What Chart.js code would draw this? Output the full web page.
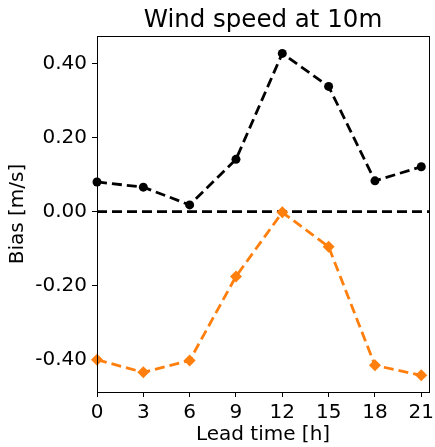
<!DOCTYPE html>
<html>
<head>
<meta charset="utf-8">
<script src="https://cdn.jsdelivr.net/npm/chart.js@4"></script>
<style>
html,body{margin:0;padding:0;background:#fff;}
#wrap{width:435px;height:447px;position:relative;}
</style>
</head>
<body>
<div id="wrap"><canvas id="c" width="435" height="447"></canvas></div>
<script>
const leadTimes = [0, 3, 6, 9, 12, 15, 18, 21];
const blackBias = [0.080, 0.066, 0.018, 0.141, 0.427, 0.338, 0.083, 0.121];
const orangeBias = [-0.400, -0.434, -0.402, -0.175, -0.002, -0.095, -0.415, -0.442];
const yTickValues = [-0.4, -0.2, 0.0, 0.2, 0.4];
const xRange = [0, 21.5];
const yRange = [-0.487, 0.474];

const FONT = "'DejaVu Sans', sans-serif";

const boxPlugin = {
  id: 'box',
  afterDatasetsDraw(chart) {
    const a = chart.chartArea, ctx = chart.ctx;
    ctx.save();
    ctx.strokeStyle = '#000';
    ctx.lineWidth = 1;
    ctx.strokeRect(Math.round(a.left) + 0.5, Math.round(a.top) + 0.5, Math.round(a.right - a.left), Math.round(a.bottom - a.top));
    ctx.restore();
  }
};

new Chart(document.getElementById('c'), {
  type: 'line',
  data: {
    datasets: [
      {
        label: 'zero',
        data: xRange.map(x => ({x: x, y: 0})),
        borderColor: '#000',
        borderWidth: 2.8,
        borderDash: [10, 5],
        pointRadius: 0,
        order: 3
      },
      {
        label: 'black',
        data: leadTimes.map((x, i) => ({x: x, y: blackBias[i]})),
        borderColor: '#000',
        backgroundColor: '#000',
        borderWidth: 2.8,
        borderDash: [10, 5],
        pointStyle: 'circle',
        pointRadius: 4.5,
        pointBorderWidth: 0,
        order: 1
      },
      {
        label: 'orange',
        data: leadTimes.map((x, i) => ({x: x, y: orangeBias[i]})),
        borderColor: '#ff7f0e',
        backgroundColor: '#ff7f0e',
        borderWidth: 2.8,
        borderDash: [10, 5],
        pointStyle: 'rectRot',
        pointRadius: 6,
        pointBorderWidth: 0,
        order: 2
      }
    ]
  },
  options: {
    responsive: false,
    animation: false,
    clip: false,
    layout: { padding: { left: 0, right: 4, top: 0, bottom: 0 } },
    plugins: {
      legend: { display: false },
      tooltip: { enabled: false },
      title: {
        display: true,
        text: 'Wind speed at 10m',
        fullSize: false,
        color: '#000',
        font: { family: FONT, size: 24.5, weight: 'normal' },
        padding: { top: 5.6, bottom: 1 }
      }
    },
    scales: {
      x: {
        type: 'linear',
        min: xRange[0],
        max: xRange[1],
        afterFit(s) { s.height = 55; s.paddingRight = 0; s.paddingLeft = 0; },
        border: { display: true, color: '#000', width: 1 },
        grid: { display: true, drawOnChartArea: false, drawTicks: true, tickLength: 5, color: '#000' },
        ticks: {
          stepSize: 3,
          includeBounds: false,
          color: '#000',
          padding: 4,
          maxRotation: 0,
          autoSkip: false,
          font: { family: FONT, size: 20 },
          callback: v => String(v)
        },
        title: {
          display: true,
          text: 'Lead time [h]',
          color: '#000',
          font: { family: FONT, size: 20 },
          padding: { top: 5, bottom: 0 }
        }
      },
      y: {
        type: 'linear',
        min: yRange[0],
        max: yRange[1],
        afterFit(s) { s.width = 97; s.paddingTop = 0; s.paddingBottom = 0; },
        afterBuildTicks(s) { s.ticks = yTickValues.map(v => ({value: v})); },
        border: { display: true, color: '#000', width: 1 },
        grid: { display: true, drawOnChartArea: false, drawTicks: true, tickLength: 5, color: '#000' },
        ticks: {
          color: '#000',
          padding: 5,
          autoSkip: false,
          font: { family: FONT, size: 20 },
          callback: v => v.toFixed(2)
        },
        title: {
          display: true,
          text: 'Bias [m/s]',
          color: '#000',
          font: { family: FONT, size: 20 },
          padding: { top: 6, bottom: 0 }
        }
      }
    }
  },
  plugins: [boxPlugin]
});
</script>
</body>
</html>
